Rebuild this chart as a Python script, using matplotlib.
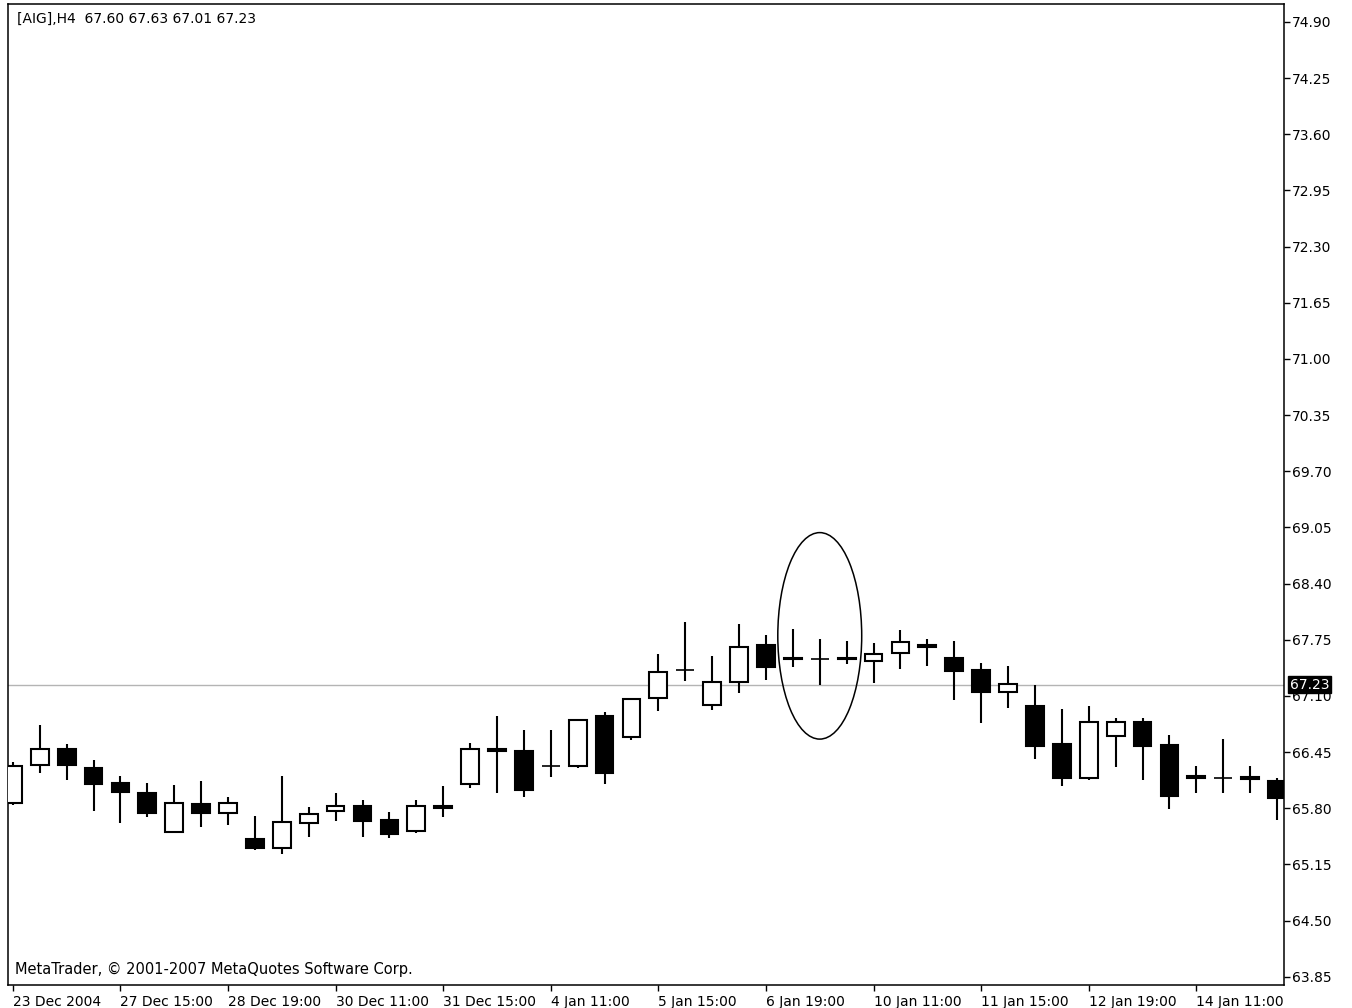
import matplotlib
matplotlib.use("Agg")
import matplotlib.pyplot as plt
from matplotlib.patches import Rectangle, Ellipse

# H4 bars
opens = [65.86, 66.30, 66.49, 66.27, 66.09, 65.98, 65.52, 65.85, 65.74, 65.44,
         65.34, 65.63, 65.77, 65.82, 65.66, 65.54, 65.82, 66.08, 66.48, 66.46,
         66.29, 66.29, 66.87, 66.62, 67.08, 67.40, 67.00, 67.26, 67.69, 67.54,
         67.53, 67.54, 67.50, 67.60, 67.69, 67.54, 67.40, 67.15, 66.98, 66.54,
         66.15, 66.64, 66.80, 66.53, 66.17, 66.15, 66.16, 66.12]
highs = [66.34, 66.76, 66.54, 66.36, 66.17, 66.09, 66.07, 66.12, 65.93, 65.71,
         66.17, 65.81, 65.98, 65.90, 65.76, 65.90, 66.06, 66.56, 66.87, 66.71,
         66.70, 66.83, 66.91, 67.07, 67.59, 67.96, 67.56, 67.93, 67.81, 67.87,
         67.76, 67.74, 67.71, 67.86, 67.76, 67.74, 67.48, 67.45, 67.23, 66.95,
         66.98, 66.84, 66.84, 66.65, 66.29, 66.60, 66.29, 66.15]
lows = [65.84, 66.21, 66.13, 65.77, 65.63, 65.70, 65.51, 65.58, 65.61, 65.32,
        65.27, 65.47, 65.65, 65.47, 65.45, 65.51, 65.70, 66.03, 65.98, 65.93,
        66.16, 66.26, 66.08, 66.59, 66.93, 67.27, 66.94, 67.13, 67.28, 67.44,
        67.23, 67.47, 67.25, 67.41, 67.45, 67.05, 66.79, 66.96, 66.37, 66.06,
        66.13, 66.28, 66.13, 65.79, 65.98, 65.98, 65.98, 65.66]
closes = [66.29, 66.49, 66.30, 66.08, 65.99, 65.74, 65.86, 65.74, 65.86, 65.34,
          65.64, 65.73, 65.83, 65.65, 65.50, 65.83, 65.80, 66.49, 66.46, 66.01,
          66.29, 66.82, 66.21, 67.06, 67.38, 67.40, 67.26, 67.67, 67.44, 67.53,
          67.53, 67.53, 67.59, 67.72, 67.67, 67.39, 67.14, 67.24, 66.52, 66.15,
          66.80, 66.80, 66.52, 65.94, 66.15, 66.15, 66.14, 65.92]

time_labels = ["23 Dec 2004", "27 Dec 15:00", "28 Dec 19:00", "30 Dec 11:00",
               "31 Dec 15:00", "4 Jan 11:00", "5 Jan 15:00", "6 Jan 19:00",
               "10 Jan 11:00", "11 Jan 15:00", "12 Jan 19:00", "14 Jan 11:00"]
time_label_bars = [0, 4, 8, 12, 16, 20, 24, 28, 32, 36, 40, 44]

price_ticks = [74.90, 74.25, 73.60, 72.95, 72.30, 71.65, 71.00, 70.35, 69.70,
               69.05, 68.40, 67.75, 67.10, 66.45, 65.80, 65.15, 64.50, 63.85]
last_price = 67.23
title = "[AIG],H4  67.60 67.63 67.01 67.23"

fig = plt.figure(figsize=(13.52, 10.08), dpi=100)
ax = fig.add_axes([8 / 1352, 1 - 985 / 1008, 1276 / 1352, 981 / 1008])

body_w = 0.66
for i, (o, h, l, c) in enumerate(zip(opens, highs, lows, closes)):
    ax.vlines(i, l, h, color="black", lw=1.5, zorder=2)
    if o == c:
        ax.hlines(o, i - body_w / 2, i + body_w / 2, color="black", lw=1.2, zorder=3)
    else:
        fc = "white" if c > o else "black"
        ax.add_patch(Rectangle((i - body_w / 2, min(o, c)), body_w, abs(c - o),
                               facecolor=fc, edgecolor="black", lw=1.5, zorder=3))

# current price line
ax.axhline(last_price, color="#b4b4b4", lw=1, zorder=1)

# ellipse around the doji group
ax.add_patch(Ellipse((30, 67.795), 3.12, 2.39, fill=False, edgecolor="black",
                     lw=1.1, zorder=4))

ax.set_xlim(-0.18, 47.26)
ax.set_ylim(63.754, 75.108)

ax.yaxis.tick_right()
ax.set_yticks(price_ticks)
ax.set_yticklabels([f"{p:.2f}" for p in price_ticks])
ax.set_xticks(time_label_bars)
ax.set_xticklabels(time_labels)
for lab in ax.get_xticklabels():
    lab.set_horizontalalignment("left")
ax.tick_params(axis="both", direction="out", length=4, width=1, labelsize=10,
               colors="black", pad=2)
ax.tick_params(axis="x", pad=3)
for s in ax.spines.values():
    s.set_linewidth(1.1)
    s.set_color("black")

ax.text(1.0045, last_price, f"{last_price:.2f}",
        transform=ax.get_yaxis_transform(), color="white", fontsize=10,
        va="center", ha="left", zorder=10, clip_on=False,
        bbox=dict(boxstyle="square,pad=0.12", facecolor="black", edgecolor="black"))

ax.text(9 / 1276, 1 - 15 / 981, title, transform=ax.transAxes, fontsize=10,
        va="center", ha="left")
ax.text(7 / 1276, 16 / 981, "MetaTrader, © 2001-2007 MetaQuotes Software Corp.",
        transform=ax.transAxes, fontsize=10.5, va="center", ha="left")

fig.savefig("out.png", dpi=100, facecolor="white")
